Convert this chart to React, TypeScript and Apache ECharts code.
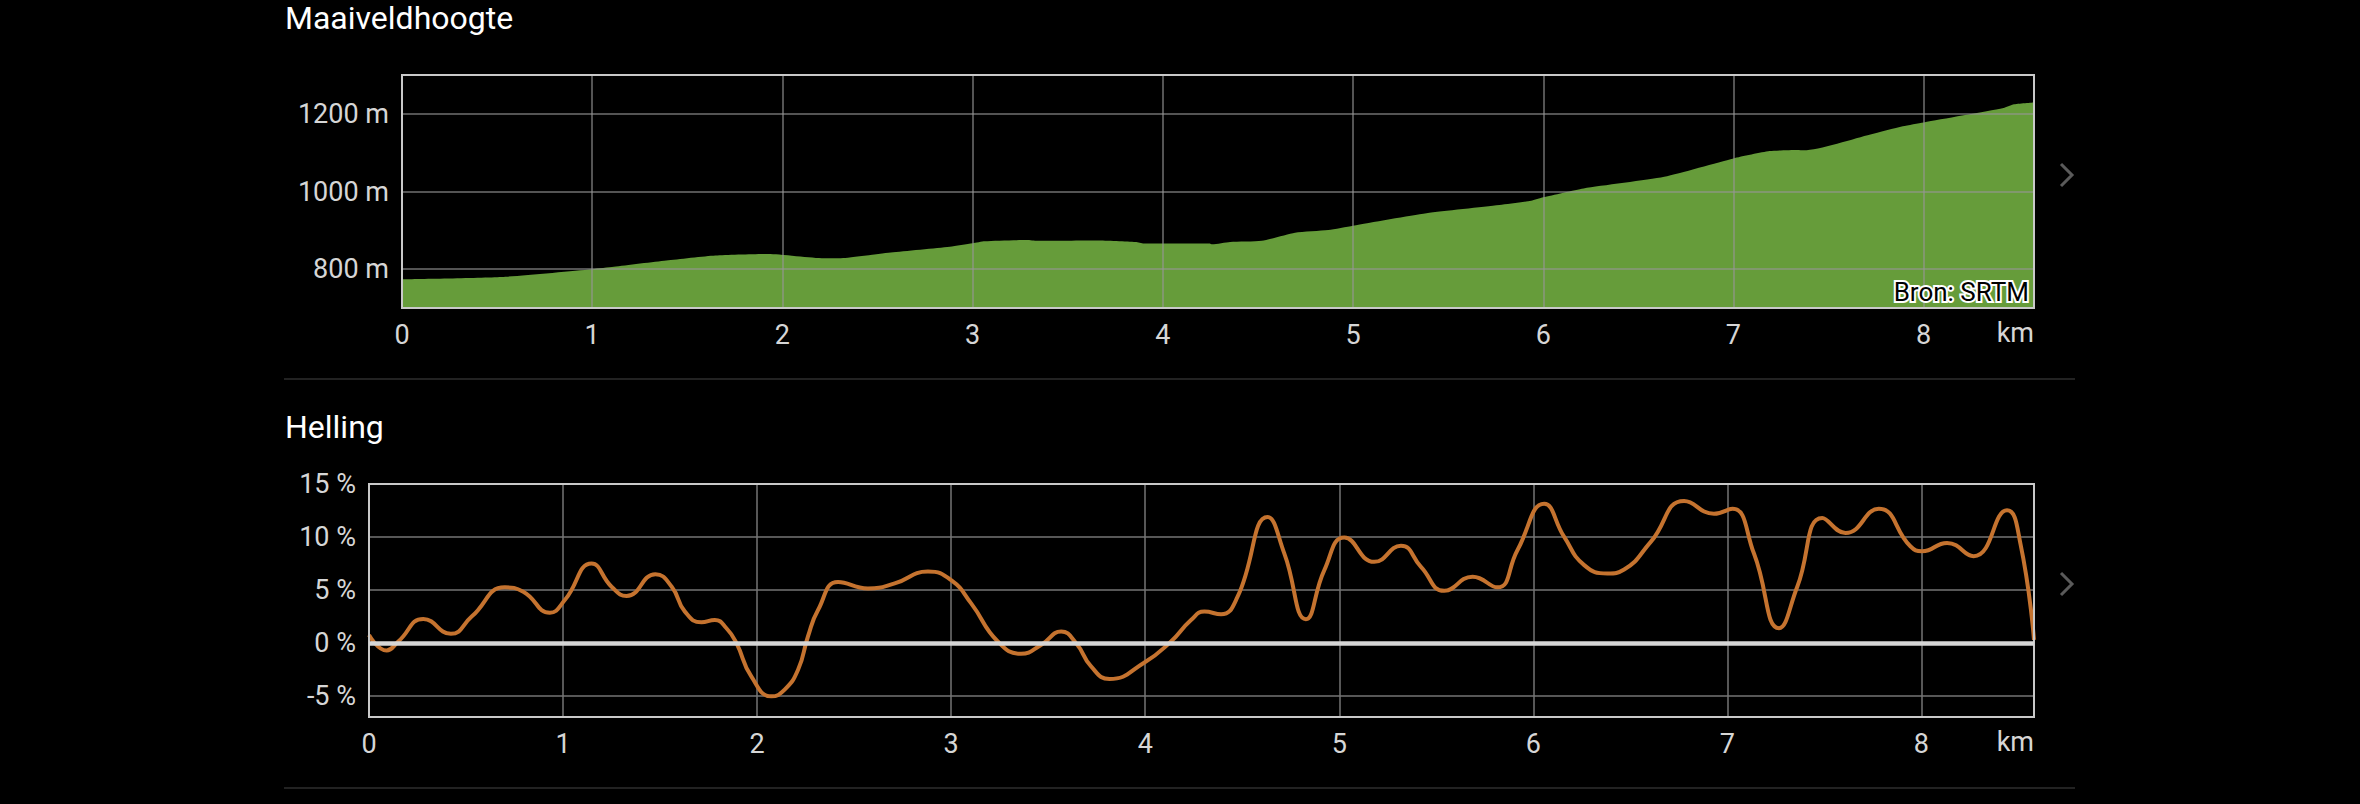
import React, { useEffect, useRef } from 'react';
import * as echarts from 'echarts';

// ---- data ----
const KM_MAX = 8.58;
const xTicks = [0, 1, 2, 3, 4, 5, 6, 7, 8];
const distanceUnit = 'km';

const elevTitle = 'Maaiveldhoogte';
const elevKm = [0, 0.524, 1.0, 1.114, 1.39, 1.648, 1.925, 2.22, 2.33, 2.57, 2.88, 3.0, 3.064, 3.285, 3.34, 3.654, 3.857, 3.9, 4.244, 4.26, 4.354, 4.52, 4.695, 4.87, 5.0, 5.386, 5.77, 5.936, 6.0, 6.212, 6.636, 7.0, 7.19, 7.336, 7.37, 7.72, 7.89, 8.0, 8.42, 8.47, 8.58];
const elevM = [774, 780, 800, 806, 822, 835, 839, 828, 829, 843, 858, 867, 872, 875, 873, 874, 870, 866, 866, 864, 870, 873, 894, 901, 912, 944, 965, 976, 985, 1008, 1038, 1085, 1104, 1107, 1106, 1147, 1168, 1178, 1215, 1224, 1229];
const elevTicks = [800, 1000, 1200];
const elevMin = 700;
const elevMax = 1300;
const sourceLabel = 'Bron: SRTM';

const slopeTitle = 'Helling';
const slopeKm = [0, 0.091, 0.151, 0.28, 0.422, 0.529, 0.7, 0.795, 0.932, 1.009, 1.147, 1.25, 1.327, 1.476, 1.56, 1.628, 1.713, 1.782, 1.842, 1.893, 1.97, 2.074, 2.142, 2.211, 2.262, 2.314, 2.417, 2.571, 2.709, 2.88, 3.0, 3.103, 3.24, 3.36, 3.463, 3.567, 3.644, 3.721, 3.816, 3.996, 4.133, 4.236, 4.305, 4.391, 4.476, 4.631, 4.717, 4.828, 4.923, 5.026, 5.18, 5.318, 5.421, 5.541, 5.687, 5.815, 5.918, 6.056, 6.159, 6.262, 6.382, 6.468, 6.605, 6.777, 6.931, 7.026, 7.137, 7.266, 7.36, 7.489, 7.609, 7.78, 7.943, 8.003, 8.132, 8.269, 8.441, 8.51, 8.58];
const slopePct = [0.75, -0.72, 0.13, 2.26, 0.85, 2.48, 5.24, 4.83, 2.85, 4.04, 7.49, 5.3, 4.42, 6.49, 5.3, 2.95, 1.94, 2.16, 1.38, 0, -3.17, -5.05, -4.42, -2.54, 0.6, 3.1, 5.74, 5.14, 5.61, 6.74, 5.92, 3.73, 0.13, -1.03, -0.19, 1.07, -0.03, -2.23, -3.42, -1.85, 0.13, 2.16, 2.95, 2.7, 4.36, 11.88, 8.43, 2.23, 6.87, 9.94, 7.65, 9.18, 7.18, 4.92, 6.24, 5.24, 8.75, 13.13, 10.0, 7.34, 6.55, 6.93, 9.53, 13.39, 12.19, 12.66, 8.43, 1.38, 5.3, 11.79, 10.38, 12.66, 9.12, 8.65, 9.44, 8.18, 12.51, 9.37, 0.28];
const slopeTicks = [-5, 0, 5, 10, 15];
const slopeMin = -7;
const slopeMax = 15;

const FONT = 'Roboto, "Liberation Sans", sans-serif';
const LABEL_COLOR = '#d6d6d6';

export default function App() {
  const ref = useRef<HTMLDivElement>(null);

  useEffect(() => {
    document.body.style.margin = '0';
    document.body.style.background = '#000';
    const chart = echarts.init(ref.current!, null, { renderer: 'svg' });

    const xLabel = {
      color: LABEL_COLOR,
      fontSize: 27,
      fontFamily: FONT,
      margin: 13,
      showMaxLabel: false,
      formatter: (v: number) => (xTicks.includes(v) ? String(v) : ''),
    };
    const yLabelBase = { color: LABEL_COLOR, fontSize: 27, fontFamily: FONT, margin: 13 };

    const option: any = {
      animation: false,
      backgroundColor: '#000',
      grid: [
        { left: 402, top: 75, width: 1632, height: 233, show: true, borderColor: '#c9c9c9', borderWidth: 2, backgroundColor: 'transparent', z: 5 },
        { left: 369, top: 484, width: 1665, height: 233, show: true, borderColor: '#c9c9c9', borderWidth: 2, backgroundColor: 'transparent', z: 5 },
      ],
      xAxis: [
        {
          type: 'value', gridIndex: 0, min: 0, max: KM_MAX, interval: 1, z: 4,
          axisLine: { show: false }, axisTick: { show: false },
          axisLabel: xLabel,
          splitLine: { show: true, lineStyle: { color: 'rgba(150,150,150,0.75)', width: 1.5 } },
        },
        {
          type: 'value', gridIndex: 1, min: 0, max: KM_MAX, interval: 1,
          axisLine: { show: false }, axisTick: { show: false },
          axisLabel: xLabel,
          splitLine: { show: true, lineStyle: { color: '#747474', width: 1.5 } },
        },
      ],
      yAxis: [
        {
          type: 'value', gridIndex: 0, min: elevMin, max: elevMax, splitNumber: 3, minInterval: 200, maxInterval: 200, z: 4,
          axisLine: { show: false }, axisTick: { show: false },
          axisLabel: { ...yLabelBase, formatter: (v: number) => (elevTicks.includes(v) ? `${v} m` : '') },
          splitLine: { show: true, lineStyle: { color: 'rgba(150,150,150,0.75)', width: 1.5 } },
        },
        {
          type: 'value', gridIndex: 1, min: slopeMin, max: slopeMax, splitNumber: 5, minInterval: 5, maxInterval: 5,
          axisLine: { show: false }, axisTick: { show: false },
          axisLabel: { ...yLabelBase, formatter: (v: number) => (slopeTicks.includes(v) ? `${v} %` : '') },
          splitLine: { show: true, lineStyle: { color: '#747474', width: 1.5 } },
        },
      ],
      series: [
        {
          type: 'line', xAxisIndex: 0, yAxisIndex: 0, z: 2,
          data: elevKm.map((k, i) => [k, elevM[i]]),
          symbol: 'none', smooth: 0.2,
          lineStyle: { width: 0 },
          areaStyle: { color: '#669c3a', opacity: 1, origin: 'start' },
          silent: true,
        },
        {
          type: 'line', xAxisIndex: 1, yAxisIndex: 1, z: 2,
          data: slopeKm.map((k, i) => [k, slopePct[i]]),
          symbol: 'none', smooth: 0.5,
          lineStyle: { width: 4, color: '#c5732f' },
          silent: true,
          markLine: {
            silent: true, symbol: 'none', label: { show: false },
            lineStyle: { color: '#d6d6d6', width: 4.5, type: 'solid' },
            data: [{ yAxis: 0 }],
          },
        },
      ],
      graphic: [
        { type: 'text', x: 285, y: 18, style: { text: elevTitle, fill: '#ffffff', font: `32px ${FONT}`, textVerticalAlign: 'middle' } },
        { type: 'text', x: 285, y: 427, style: { text: slopeTitle, fill: '#ffffff', font: `32px ${FONT}`, textVerticalAlign: 'middle' } },
        { type: 'line', shape: { x1: 284, y1: 379, x2: 2075, y2: 379 }, style: { stroke: '#2e2e2e', lineWidth: 1.5 } },
        { type: 'line', shape: { x1: 284, y1: 788, x2: 2075, y2: 788 }, style: { stroke: '#2e2e2e', lineWidth: 1.5 } },
        { type: 'polyline', shape: { points: [[2061, 164], [2072, 175], [2061, 186]] }, style: { stroke: '#5a5a5a', lineWidth: 3, fill: null } },
        { type: 'polyline', shape: { points: [[2061, 573], [2072, 584], [2061, 595]] }, style: { stroke: '#5a5a5a', lineWidth: 3, fill: null } },
        { type: 'text', x: 2034, y: 333, style: { text: distanceUnit, fill: LABEL_COLOR, font: `27px ${FONT}`, textAlign: 'right', textVerticalAlign: 'middle' } },
        { type: 'text', x: 2034, y: 742, style: { text: distanceUnit, fill: LABEL_COLOR, font: `27px ${FONT}`, textAlign: 'right', textVerticalAlign: 'middle' } },
        { type: 'text', x: 2029, y: 292, z: 10, style: { text: sourceLabel, fill: '#000000', stroke: '#ffffff', lineWidth: 4, font: `26px ${FONT}`, textAlign: 'right', textVerticalAlign: 'middle' } },
      ],
    };

    chart.setOption(option);
    return () => chart.dispose();
  }, []);

  return <div ref={ref} style={{ position: 'absolute', left: 0, top: 0, width: 2360, height: 804, background: '#000' }} />;
}
